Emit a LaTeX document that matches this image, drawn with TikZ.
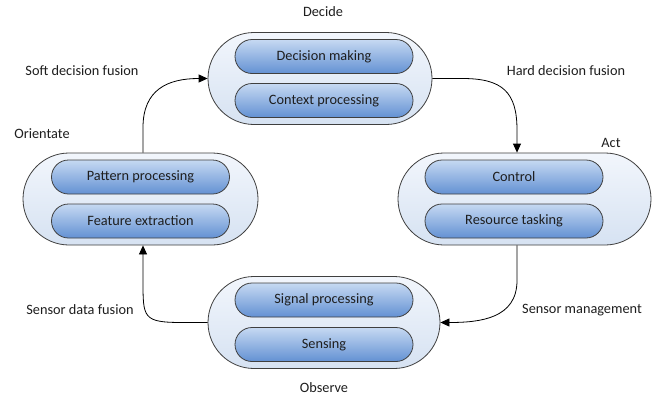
\documentclass[tikz,border=0pt]{standalone}
\usepackage{fontspec}
\setmainfont{Carlito}
\usetikzlibrary{arrows.meta,shapes.misc}
\definecolor{outerA}{HTML}{F2F6FC}
\definecolor{outerB}{HTML}{D6E2F2}
\definecolor{innerA}{HTML}{C6D9F2}
\definecolor{innerB}{HTML}{6391D3}
\definecolor{edge}{HTML}{3F3F3F}
\definecolor{txt}{HTML}{1E1E1E}
\tikzset{
  outerbox/.style={draw=edge, line width=0.8pt, rounded corners=46pt,
    top color=outerA, bottom color=outerB, minimum height=92pt, inner sep=0pt},
  innerbox/.style={draw=edge, line width=0.8pt, rounded corners=17pt,
    top color=innerA, bottom color=innerB, minimum width=178pt, minimum height=34pt,
    inner sep=0pt, font=\fontsize{14.3}{16}\selectfont, text=txt},
  lbl/.style={font=\fontsize{14.3}{16}\selectfont, text=txt, inner sep=0pt},
  flow/.style={line width=0.8pt, -{Triangle[length=9pt,width=8pt]}}
}
\begin{document}
\begin{tikzpicture}[x=1pt,y=-1pt]
\useasboundingbox[fill=white] (0,0) rectangle (658,399);
% outer groups
\node[outerbox, minimum width=224pt] (decide) at (320,78.5) {};
\node[outerbox, minimum width=235pt] (orient) at (140.5,199) {};
\node[outerbox, minimum width=253pt] (act) at (524.5,199) {};
\node[outerbox, minimum width=232pt] (observe) at (324,322.5) {};
% inner boxes
\node[innerbox] (dm) at (324,56.5) {Decision making};
\node[innerbox] (cp) at (324,100.5) {Context processing};
\node[innerbox] (pp) at (140.5,177) {Pattern processing};
\node[innerbox] (fe) at (140.5,221) {Feature extraction};
\node[innerbox] (ctl) at (514,177) {Control};
\node[innerbox] (rt) at (514,221) {Resource tasking};
\node[innerbox] (sp) at (324,300) {Signal processing};
\node[innerbox] (sn) at (324,344.5) {Sensing};
% labels
\node[lbl] (l1) at (323,12) {Decide};
\node[lbl] (l2) at (82,71) {Soft decision fusion};
\node[lbl] (l3) at (566,71) {Hard decision fusion};
\node[lbl] (l4) at (42,134) {Orientate};
\node[lbl] (l5) at (611,143) {Act};
\node[lbl] (l6) at (80,310) {Sensor data fusion};
\node[lbl] (l7) at (582,310) {Sensor management};
\node[lbl] (l8) at (324,388) {Observe};
% connectors
\draw[flow] ([xshift=2.5pt]orient.north) -- ++(0,-25) .. controls +(0,-38) and +(-40,0) .. (decide.west);
\draw[flow] (decide.east) -- ++(30,0) .. controls +(40,0) and +(0,-38) .. ([xshift=-7.5pt]act.north |- 0,130) -- ([xshift=-7.5pt]act.north);
\draw[flow] ([xshift=-7.5pt]act.south) -- ++(0,35) .. controls +(0,38) and +(40,0) .. (observe.east);
\draw[flow] (observe.west) -- ++(-25,0) .. controls +(-40,0) and +(0,38) .. ([xshift=2.5pt]orient.south |- 0,280) -- ([xshift=2.5pt]orient.south);
\end{tikzpicture}
\end{document}
